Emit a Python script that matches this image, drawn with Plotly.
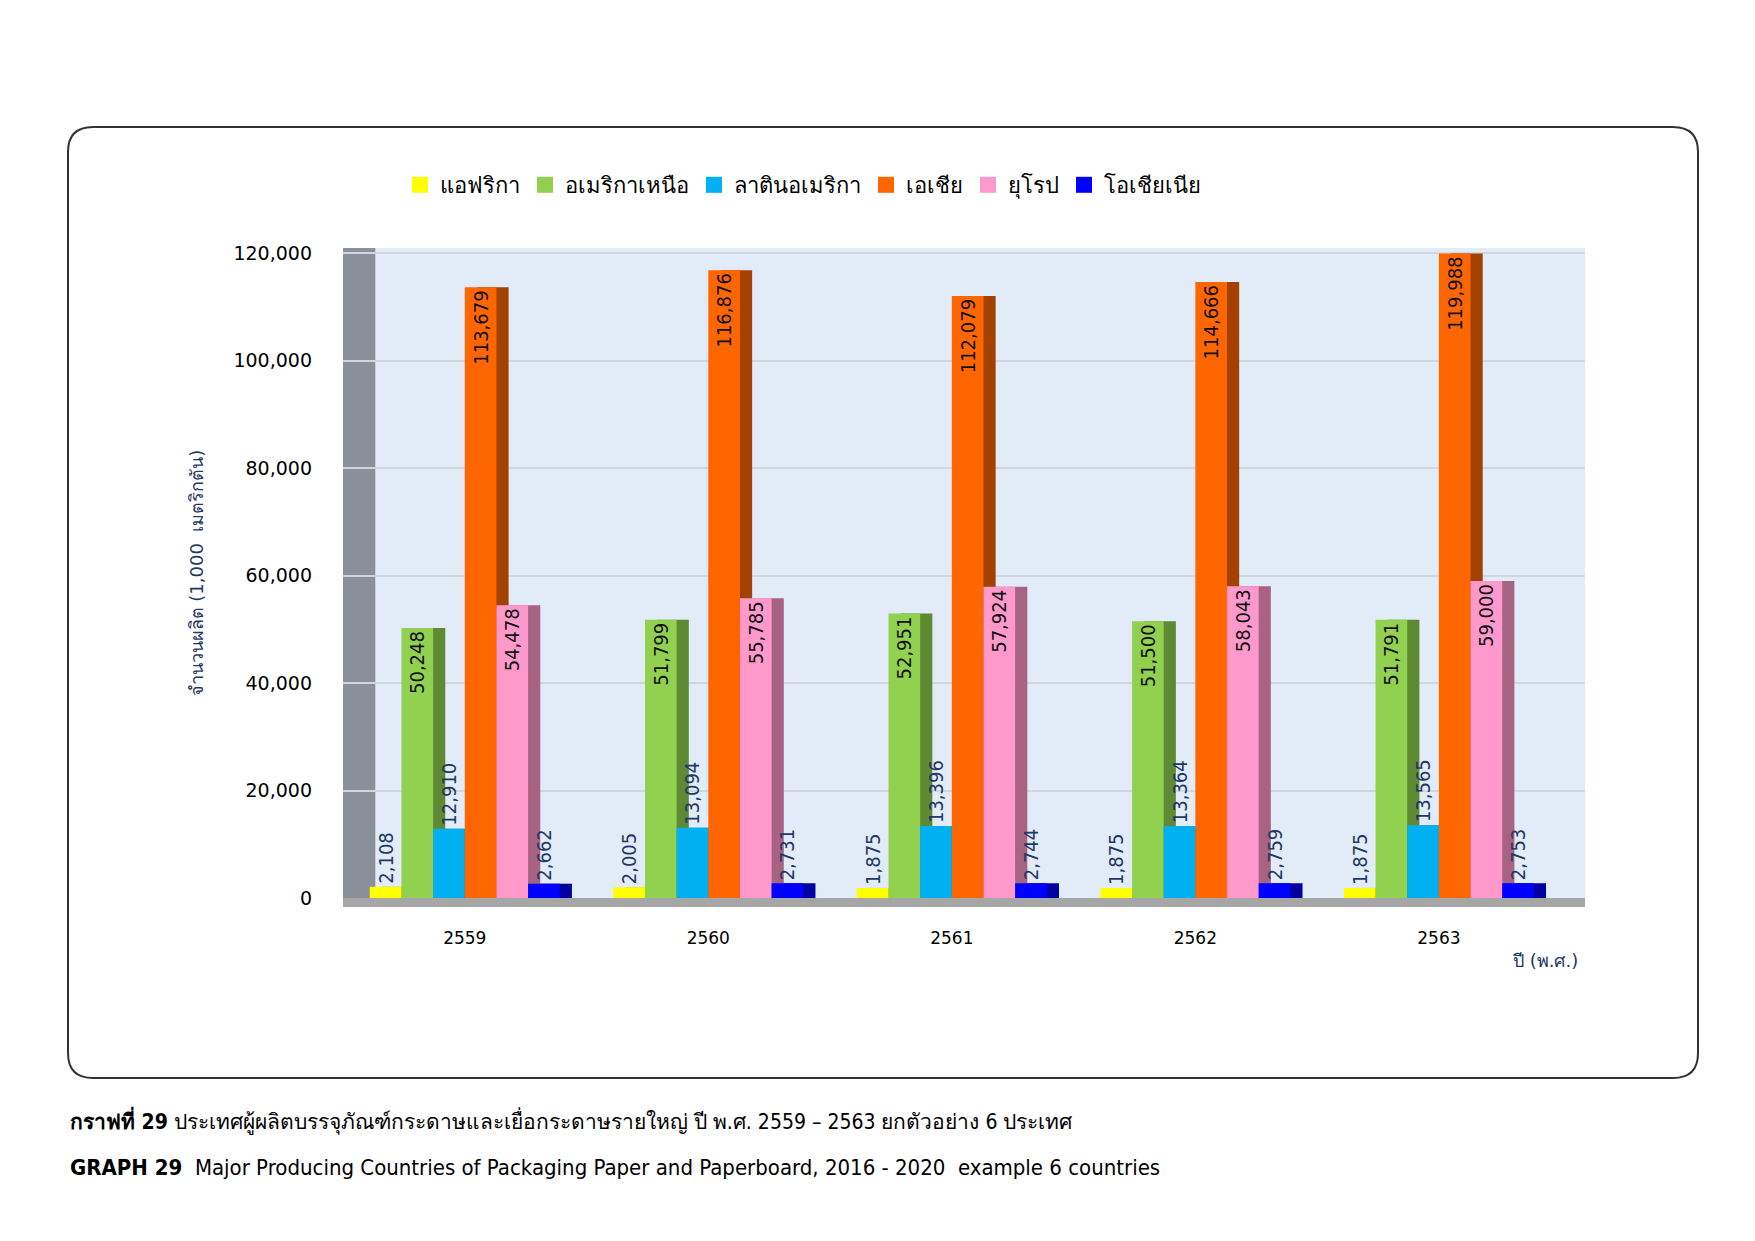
import plotly.graph_objects as go

# data (1,000 metric tons)
years = ["2559", "2560", "2561", "2562", "2563"]
regions = ["แอฟริกา", "อเมริกาเหนือ", "ลาตินอเมริกา", "เอเชีย", "ยุโรป", "โอเชียเนีย"]
africa = [2108, 2005, 1875, 1875, 1875]
north_america = [50248, 51799, 52951, 51500, 51791]
latin_america = [12910, 13094, 13396, 13364, 13565]
asia = [113679, 116876, 112079, 114666, 119988]
europe = [54478, 55785, 57924, 58043, 59000]
oceania = [2662, 2731, 2744, 2759, 2753]
series = [africa, north_america, latin_america, asia, europe, oceania]

front_colors = ["#FFFF00", "#92D050", "#00B0F0", "#FF6600", "#FF99CC", "#0000FF"]
side_colors = ["#B8B800", "#5E8A33", "#0080B0", "#A34100", "#A86383", "#0000A0"]
label_inside = [False, True, False, True, True, False]

W_FIG, H_FIG = 1755, 1241
L, R, T, B = 335, 178, 240, 351
PW, PH = W_FIG - L - R, H_FIG - T - B
COND = "DejaVu Sans Condensed, DejaVu Sans"


def px_x(X):
    return (X - L) / PW


def px_y(Y):
    return (H_FIG - B - Y) / PH


bar_w = 0.13
side_w = 0.05
start = -0.39

fig = go.Figure()

# dark side faces first (drawn behind the next bar)
for i, vals in enumerate(series):
    fig.add_trace(go.Bar(
        x=years, y=vals,
        offset=start + i * bar_w + side_w, width=bar_w,
        marker=dict(color=side_colors[i], line=dict(width=0)),
        showlegend=False, hoverinfo="skip",
    ))

for i, vals in enumerate(series):
    inside = label_inside[i]
    fig.add_trace(go.Bar(
        x=years, y=vals, name=regions[i],
        offset=start + i * bar_w, width=bar_w,
        marker=dict(color=front_colors[i], line=dict(width=0)),
        text=[f"{v:,}" for v in vals],
        textposition="inside" if inside else "outside",
        insidetextanchor="end",
        textangle=-90,
        constraintext="none",
        textfont=dict(family=COND, size=20, color="#111111" if inside else "#1F3864"),
        cliponaxis=False, showlegend=False,
    ))

# legend entries with larger square keys
for i, name in enumerate(regions):
    fig.add_trace(go.Scatter(
        x=[None], y=[None], mode="markers", name=name,
        marker=dict(symbol="square", size=18, color=front_colors[i]),
    ))

# left wall, floor and outer frame
shapes = [
    dict(type="rect", xref="paper", yref="y", x0=0, x1=0.026, y0=0, y1=121000,
         fillcolor="#8A9099", line=dict(width=0), layer="below"),
    dict(type="rect", xref="paper", yref="paper", x0=0, x1=1, y0=-0.014, y1=0,
         fillcolor="#A6A6A6", line=dict(width=0), layer="below"),
]
x0, x1, y0, y1 = px_x(60), px_x(1690), px_y(1070), px_y(119)
rx, ry = 25 / PW, 25 / PH
path = (f"M {x0+rx},{y1} L {x1-rx},{y1} Q {x1},{y1} {x1},{y1-ry} "
        f"L {x1},{y0+ry} Q {x1},{y0} {x1-rx},{y0} L {x0+rx},{y0} "
        f"Q {x0},{y0} {x0},{y0+ry} L {x0},{y1-ry} Q {x0},{y1} {x0+rx},{y1} Z")
shapes.append(dict(type="path", xref="paper", yref="paper", path=path,
                   line=dict(color="#333333", width=2), fillcolor="rgba(0,0,0,0)"))

annotations = [
    dict(text="ปี (พ.ศ.)", xref="paper", yref="paper", x=px_x(1572), y=px_y(952),
         xanchor="right", yanchor="middle", showarrow=False,
         font=dict(family="DejaVu Sans", size=18, color="#1F3864")),
    dict(text="<b>กราฟที่ 29</b> ประเทศผู้ผลิตบรรจุภัณฑ์กระดาษและเยื่อกระดาษรายใหญ่ ปี พ.ศ. 2559 – 2563 ยกตัวอย่าง 6 ประเทศ",
         xref="paper", yref="paper", x=px_x(60), y=px_y(1112),
         xanchor="left", yanchor="middle", showarrow=False,
         font=dict(family=COND, size=21, color="#000000")),
    dict(text="<b>GRAPH 29</b>  Major Producing Countries of Packaging Paper and Paperboard, 2016 - 2020  example 6 countries",
         xref="paper", yref="paper", x=px_x(60), y=px_y(1159),
         xanchor="left", yanchor="middle", showarrow=False,
         font=dict(family=COND, size=22, color="#000000")),
]

fig.update_layout(
    width=W_FIG, height=H_FIG,
    margin=dict(l=L, r=R, t=T, b=B),
    barmode="overlay",
    paper_bgcolor="white",
    plot_bgcolor="#E1ECF8",
    shapes=shapes,
    annotations=annotations,
    legend=dict(orientation="h", x=px_x(392), y=px_y(177), xanchor="left", yanchor="middle",
                font=dict(family="DejaVu Sans", size=22, color="#000000"),
                traceorder="normal", itemwidth=30, itemsizing="trace",
                bgcolor="rgba(0,0,0,0)"),
    showlegend=True,
)

fig.update_xaxes(
    range=[-0.5, 4.6], showgrid=False, zeroline=False, showline=False,
    ticks="", ticklabelstandoff=28,
    tickfont=dict(family="DejaVu Sans", size=17, color="#000000"),
)
fig.update_yaxes(
    range=[0, 121000], tickvals=[0, 20000, 40000, 60000, 80000, 100000, 120000],
    tickformat=",", showgrid=True, gridcolor="#D3D6DB", gridwidth=1.5,
    zeroline=False, showline=False, ticks="", ticklabelstandoff=30,
    tickfont=dict(family="DejaVu Sans", size=19, color="#000000"),
    title=dict(text="จำนวนผลิต (1,000  เมตริกตัน)", standoff=25,
               font=dict(family="DejaVu Sans", size=18, color="#1F3864")),
)

fig.write_html("out.html")
